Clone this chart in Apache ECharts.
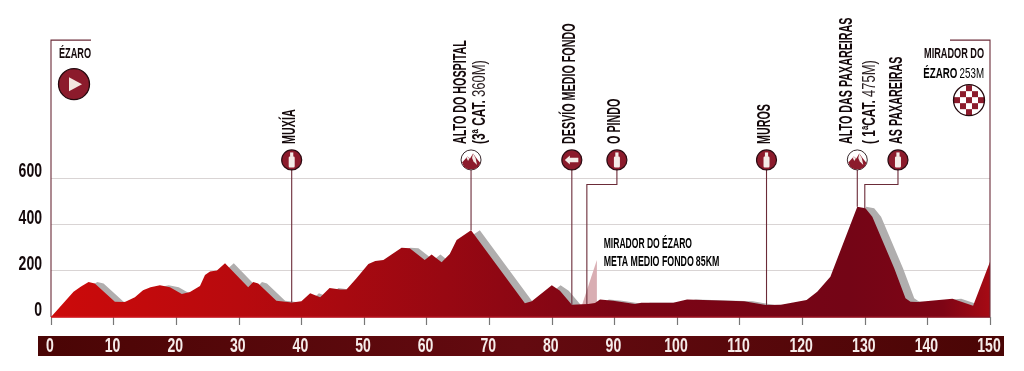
<!DOCTYPE html>
<html><head><meta charset="utf-8">
<style>html,body{margin:0;padding:0;background:#fff}#c{width:1024px;height:371px}</style>
<script src="https://cdn.jsdelivr.net/npm/echarts@6/dist/echarts.min.js"></script>
</head><body><div id="c"></div>
<script>
const km = [0,3.6,4.8,6,7,10.2,11.8,13.4,14.7,15.9,17.4,19,20.9,22.2,23.8,24.6,25.4,26.5,27.8,31.5,32.3,33.1,36,38.5,40,41.4,43,44.5,46.2,47.2,48.8,50.7,51.8,53.1,56,57.3,59.7,60.8,62.4,63.7,64.8,67.1,75.7,76.8,80,81.3,83.2,85.8,86.9,87.7,89.8,93.3,94.3,99.4,101.6,110.7,114.2,116.6,120.7,122.4,124.5,128.8,130.1,131.2,134.7,136.5,137.3,138.4,144,147.3,150];
const elevation = [0,109,132,151,145,66,65,85,116,128,137,128,99,108,134,181,196,201,232,128,151,145,70,63,68,102,85,125,119,119,167,229,242,246,299,297,246,270,236,272,332,375,59,68,137,113,53,56,60,76,70,56,62,62,76,68,52,53,73,109,174,476,469,433,210,81,66,65,79,49,239];
const yTicks = [0,200,400,600];
const xTicks = [0,10,20,30,40,50,60,70,80,90,100,110,120,130,140,150];
const spikeKm = [84.8,87.2,87.2];
const spikeElevation = [50,246,60];
const wpNames = ['MUXÍA','ALTO DO HOSPITAL','DESVÍO MEDIO FONDO','O PINDO','MUROS','ALTO DAS PAXAREIRAS','AS PAXAREIRAS'];
const wpNotesBold = ['','(3ª CAT.','','','','( 1ªCAT.',''];
const wpNotesThin = ['','360M)','','','','475M)',''];
const wpKm = [38.45,67.1,83.2,90.4,114.3,128.8,135.3];
const wpFootKm = [38.45,67.1,83.2,85.6,114.3,128.8,130.0];
const wpFootElevation = [63,375,53,56,52,476,469];
const wpIcons = ['bottle','mountain','arrow','bottle','bottle','mountain','bottle'];
const startName = 'ÉZARO';
const finishName = ['MIRADOR DO','{b|ÉZARO} {t|253M}'];
const noteLines = ['{b|MIRADOR DO ÉZARO}','{b|META MEDIO FONDO} {r|85KM}'];

const PIN_ELEV = 678, ELBOW_ELEV = 572, FRAME_ELEV = 1195;
const F = '"Liberation Sans",sans-serif';
const MAROON = '#8c1b2c', LINE = '#6b2b38', INK = '#14090b';
const shift = 1.4;
const NARROW = 0.58;

function iconShapes(kind, cx, cy){
  const W = '#f4ece8';
  const out = [];
  const circ = (fill) => ({type:'circle',shape:{cx,cy,r:10},style:{fill,stroke:'#2c0b12',lineWidth:1.2}});
  if(kind==='bottle'){
    out.push(circ(MAROON));
    out.push({type:'rect',shape:{x:cx-3,y:cy-3.5,width:6,height:11,r:1.2},style:{fill:W}});
    out.push({type:'rect',shape:{x:cx-1.6,y:cy-7.5,width:3.2,height:4.5},style:{fill:W}});
  } else if(kind==='arrow'){
    out.push(circ(MAROON));
    out.push({type:'polygon',shape:{points:[[cx-7,cy],[cx-2,cy-4.5],[cx-2,cy-2.2],[cx+6.5,cy-2.2],[cx+6.5,cy+2.2],[cx-2,cy+2.2],[cx-2,cy+4.5]]},style:{fill:W}});
  } else {
    out.push({type:'circle',shape:{cx,cy,r:10},style:{fill:'#fff',stroke:'#3a2a2e',lineWidth:1}});
    out.push({type:'polygon',shape:{points:[[cx-9,cy+2.5],[cx-3.5,cy-3.5],[cx-1,cy-1.5],[cx+2,cy-6.5],[cx+6,cy-1],[cx+9.3,cy+3],[cx+7,cy+7],[cx+3,cy+9.3],[cx-3,cy+9.3],[cx-7,cy+7]]},style:{fill:MAROON}});
    out.push({type:'polygon',shape:{points:[[cx+1,cy-2],[cx+2,cy-6.5],[cx+4.5,cy-2],[cx+6,cy+5],[cx+2.5,cy+1.5]]},style:{fill:W}});
    out.push({type:'polygon',shape:{points:[[cx-4.5,cy-2],[cx-3.5,cy-3.5],[cx-1.5,cy-1.5],[cx-3,cy+1]]},style:{fill:W}});
  }
  return out;
}
const richSmall = {b:{fontFamily:F,fontWeight:'bold',fontSize:15,color:INK},t:{fontFamily:F,fontWeight:'normal',fontSize:15,color:'#2a2022'}};

function renderWaypoint(params, api){
  const i = params.dataIndex;
  const pin = api.coord([wpKm[i],PIN_ELEV]);
  const foot = api.coord([wpFootKm[i],wpFootElevation[i]]);
  const elbow = api.coord([wpFootKm[i],ELBOW_ELEV]);
  const elbow2 = api.coord([wpKm[i],ELBOW_ELEV]);
  const pts = wpKm[i]===wpFootKm[i] ? [foot,pin] : [foot,elbow,elbow2,pin];
  const children = [{type:'polyline',shape:{points:pts},style:{stroke:LINE,lineWidth:1.1,fill:null}}];
  children.push(...iconShapes(wpIcons[i],pin[0],pin[1]));
  const hasNote = !!wpNotesBold[i];
  children.push({type:'text',x:pin[0]+(hasNote?-10.2:-1.5),y:pin[1]-16,rotation:Math.PI/2,scaleX:NARROW,
    style:{text:wpNames[i],fontFamily:F,fontWeight:'bold',fontSize:18.5,fill:INK,align:'left',verticalAlign:'middle'}});
  if(hasNote){
    const nx = pin[0]+(i===1?9:12.5);
    children.push({type:'text',x:nx,y:pin[1]-16,rotation:Math.PI/2,scaleX:.64,
      style:{text:wpNotesBold[i],fontFamily:F,fontWeight:'bold',fontSize:18.5,fill:INK,align:'left',verticalAlign:'middle'}});
    children.push({type:'text',x:nx,y:pin[1]-16-47,rotation:Math.PI/2,scaleX:.7,
      style:{text:wpNotesThin[i],fontFamily:F,fontWeight:'normal',fontSize:18.5,fill:'#2a2022',align:'left',verticalAlign:'middle'}});
  }
  return {type:'group',children};
}
function renderEnds(params, api){
  const tl = api.coord([0,FRAME_ELEV]), bl = api.coord([0,0]);
  const tr = api.coord([150,FRAME_ELEV]), br = api.coord([150,0]);
  const c = [];
  c.push({type:'polyline',shape:{points:[[tl[0]+40,tl[1]],tl,bl]},style:{stroke:LINE,lineWidth:1.1,fill:null}});
  c.push({type:'polyline',shape:{points:[[tr[0]-40,tr[1]],tr,br]},style:{stroke:LINE,lineWidth:1.1,fill:null}});
  c.push({type:'line',shape:{x1:bl[0],y1:bl[1],x2:br[0],y2:br[1]},style:{stroke:new echarts.graphic.LinearGradient(0,0,1,0,[{offset:0,color:'#d8141a'},{offset:.55,color:'#a3101f'},{offset:1,color:'#8c1020'}]),lineWidth:1.4}});
  c.push({type:'text',x:tl[0]+8,y:tl[1]+14,scaleX:.61,style:{text:startName,fontFamily:F,fontWeight:'bold',fontSize:15,fill:INK,align:'left',verticalAlign:'middle'}});
  const sx=tl[0]+23, sy=tl[1]+44;
  c.push({type:'circle',shape:{cx:sx,cy:sy,r:15.5},style:{fill:'#8c1b2c',stroke:'#24090e',lineWidth:1.3}});
  c.push({type:'polygon',shape:{points:[[sx-5,sy-7],[sx+8,sy],[sx-5,sy+7]]},style:{fill:'#f3e6df'}});
  c.push({type:'text',x:tr[0]-6,y:tr[1]+14,scaleX:.61,style:{text:finishName[0],fontFamily:F,fontWeight:'bold',fontSize:15,fill:INK,align:'right',verticalAlign:'middle'}});
  c.push({type:'text',x:tr[0]-6,y:tr[1]+34,scaleX:.65,style:{text:finishName[1],rich:richSmall,align:'right',verticalAlign:'middle'}});
  const fx=tr[0]-21, fy=tr[1]+60, s=6;
  c.push({type:'circle',shape:{cx:fx,cy:fy,r:15.5},style:{fill:'#fff'}});
  [[0,-2],[-1,-1],[1,-1],[-2,0],[0,0],[2,0],[-1,1],[1,1],[0,2]].forEach(p=>{
    c.push({type:'rect',shape:{x:fx+p[0]*s-s/2,y:fy+p[1]*s-s/2,width:s,height:s},style:{fill:MAROON}});
  });
  c.push({type:'circle',shape:{cx:fx,cy:fy,r:15.5},style:{fill:null,stroke:'#24090e',lineWidth:1.3}});
  const a = api.coord([88.3,315]);
  const annRich = {b:{fontFamily:F,fontWeight:'bold',fontSize:14,color:INK},r:{fontFamily:F,fontWeight:'bold',fontSize:14,color:'#6b0f1e'}};
  c.push({type:'text',x:a[0],y:a[1],scaleX:.61,style:{text:noteLines[0],rich:annRich,align:'left',verticalAlign:'middle'}});
  c.push({type:'text',x:a[0],y:a[1]+18,scaleX:.63,style:{text:noteLines[1],rich:annRich,align:'left',verticalAlign:'middle'}});
  return {type:'group',children:c};
}
function renderTickLabels(params, api){
  const c = [];
  xTicks.forEach(v=>{
    const p = api.coord([v,0]);
    c.push({type:'text',x:p[0]-1,y:p[1]+29.5,scaleX:.72,style:{text:String(v),fontFamily:F,fontWeight:'bold',fontSize:19.5,fill:'#f6ecea',align:'center',verticalAlign:'middle'}});
  });
  yTicks.forEach(v=>{
    const p = api.coord([0,v]);
    c.push({type:'text',x:p[0]-9,y:p[1]-6,scaleX:.72,style:{text:String(v),fontFamily:F,fontWeight:'bold',fontSize:19.5,fill:INK,align:'right',verticalAlign:'middle'}});
  });
  return {type:'group',children:c};
}
const profile = km.map((k,i)=>[k,elevation[i]]);
const shadow = km.map((k,i)=>[k+shift,elevation[i]]);
const spike = spikeKm.map((k,i)=>[k,spikeElevation[i]]);
const fillGrad = new echarts.graphic.LinearGradient(0,0,1,0,[
  {offset:0,color:'#cc0a0a'},{offset:.2,color:'#b80a0e'},{offset:.42,color:'#980812'},
  {offset:.6,color:'#7c0515'},{offset:.85,color:'#740516'},{offset:.95,color:'#7e0515'},{offset:1,color:'#a60a14'}]);
const bandGrad = new echarts.graphic.LinearGradient(0,0,1,0,[
  {offset:0,color:'#4a0505'},{offset:.5,color:'#640a10'},{offset:1,color:'#4a0505'}]);

const chart = echarts.init(document.getElementById('c'),null,{renderer:'canvas'});
chart.setOption({
  animation:false,backgroundColor:'#fff',
  grid:{left:51,right:34,top:178,bottom:54,containLabel:false},
  graphic:[{type:'rect',z:-1,silent:true,shape:{x:38,y:336,width:966,height:20},style:{fill:bandGrad}}],
  xAxis:{type:'value',min:0,max:150,interval:10,offset:6,
    axisLine:{show:false},splitLine:{show:false},
    axisTick:{show:true,length:8,lineStyle:{color:'#777',width:1.2}},
    axisLabel:{show:false}},
  yAxis:{type:'value',min:0,max:600,interval:200,
    axisLine:{show:false},axisTick:{show:false},
    splitLine:{show:true,lineStyle:{color:'#d9d4d4',width:1.2}},
    axisLabel:{show:false}},
  series:[
    {type:'line',name:'shadow',data:shadow,symbol:'none',z:2,lineStyle:{width:0},areaStyle:{color:'#b0aeae',opacity:1}},
    {type:'line',name:'spike',data:spike,symbol:'none',z:3,lineStyle:{width:0},areaStyle:{color:'#d9aeb3',opacity:1}},
    {type:'line',name:'elevation',data:profile,symbol:'none',z:4,lineStyle:{width:0},areaStyle:{color:fillGrad,opacity:1}},
    {type:'custom',name:'waypoints',z:6,clip:false,silent:true,data:wpNames.map((n,i)=>[wpKm[i],wpFootElevation[i]]),renderItem:renderWaypoint},
    {type:'custom',name:'ends',z:6,clip:false,silent:true,data:[[0,0]],renderItem:renderEnds},
    {type:'custom',name:'ticks',z:7,clip:false,silent:true,data:[[0,0]],renderItem:renderTickLabels}
  ]
});
</script></body></html>
